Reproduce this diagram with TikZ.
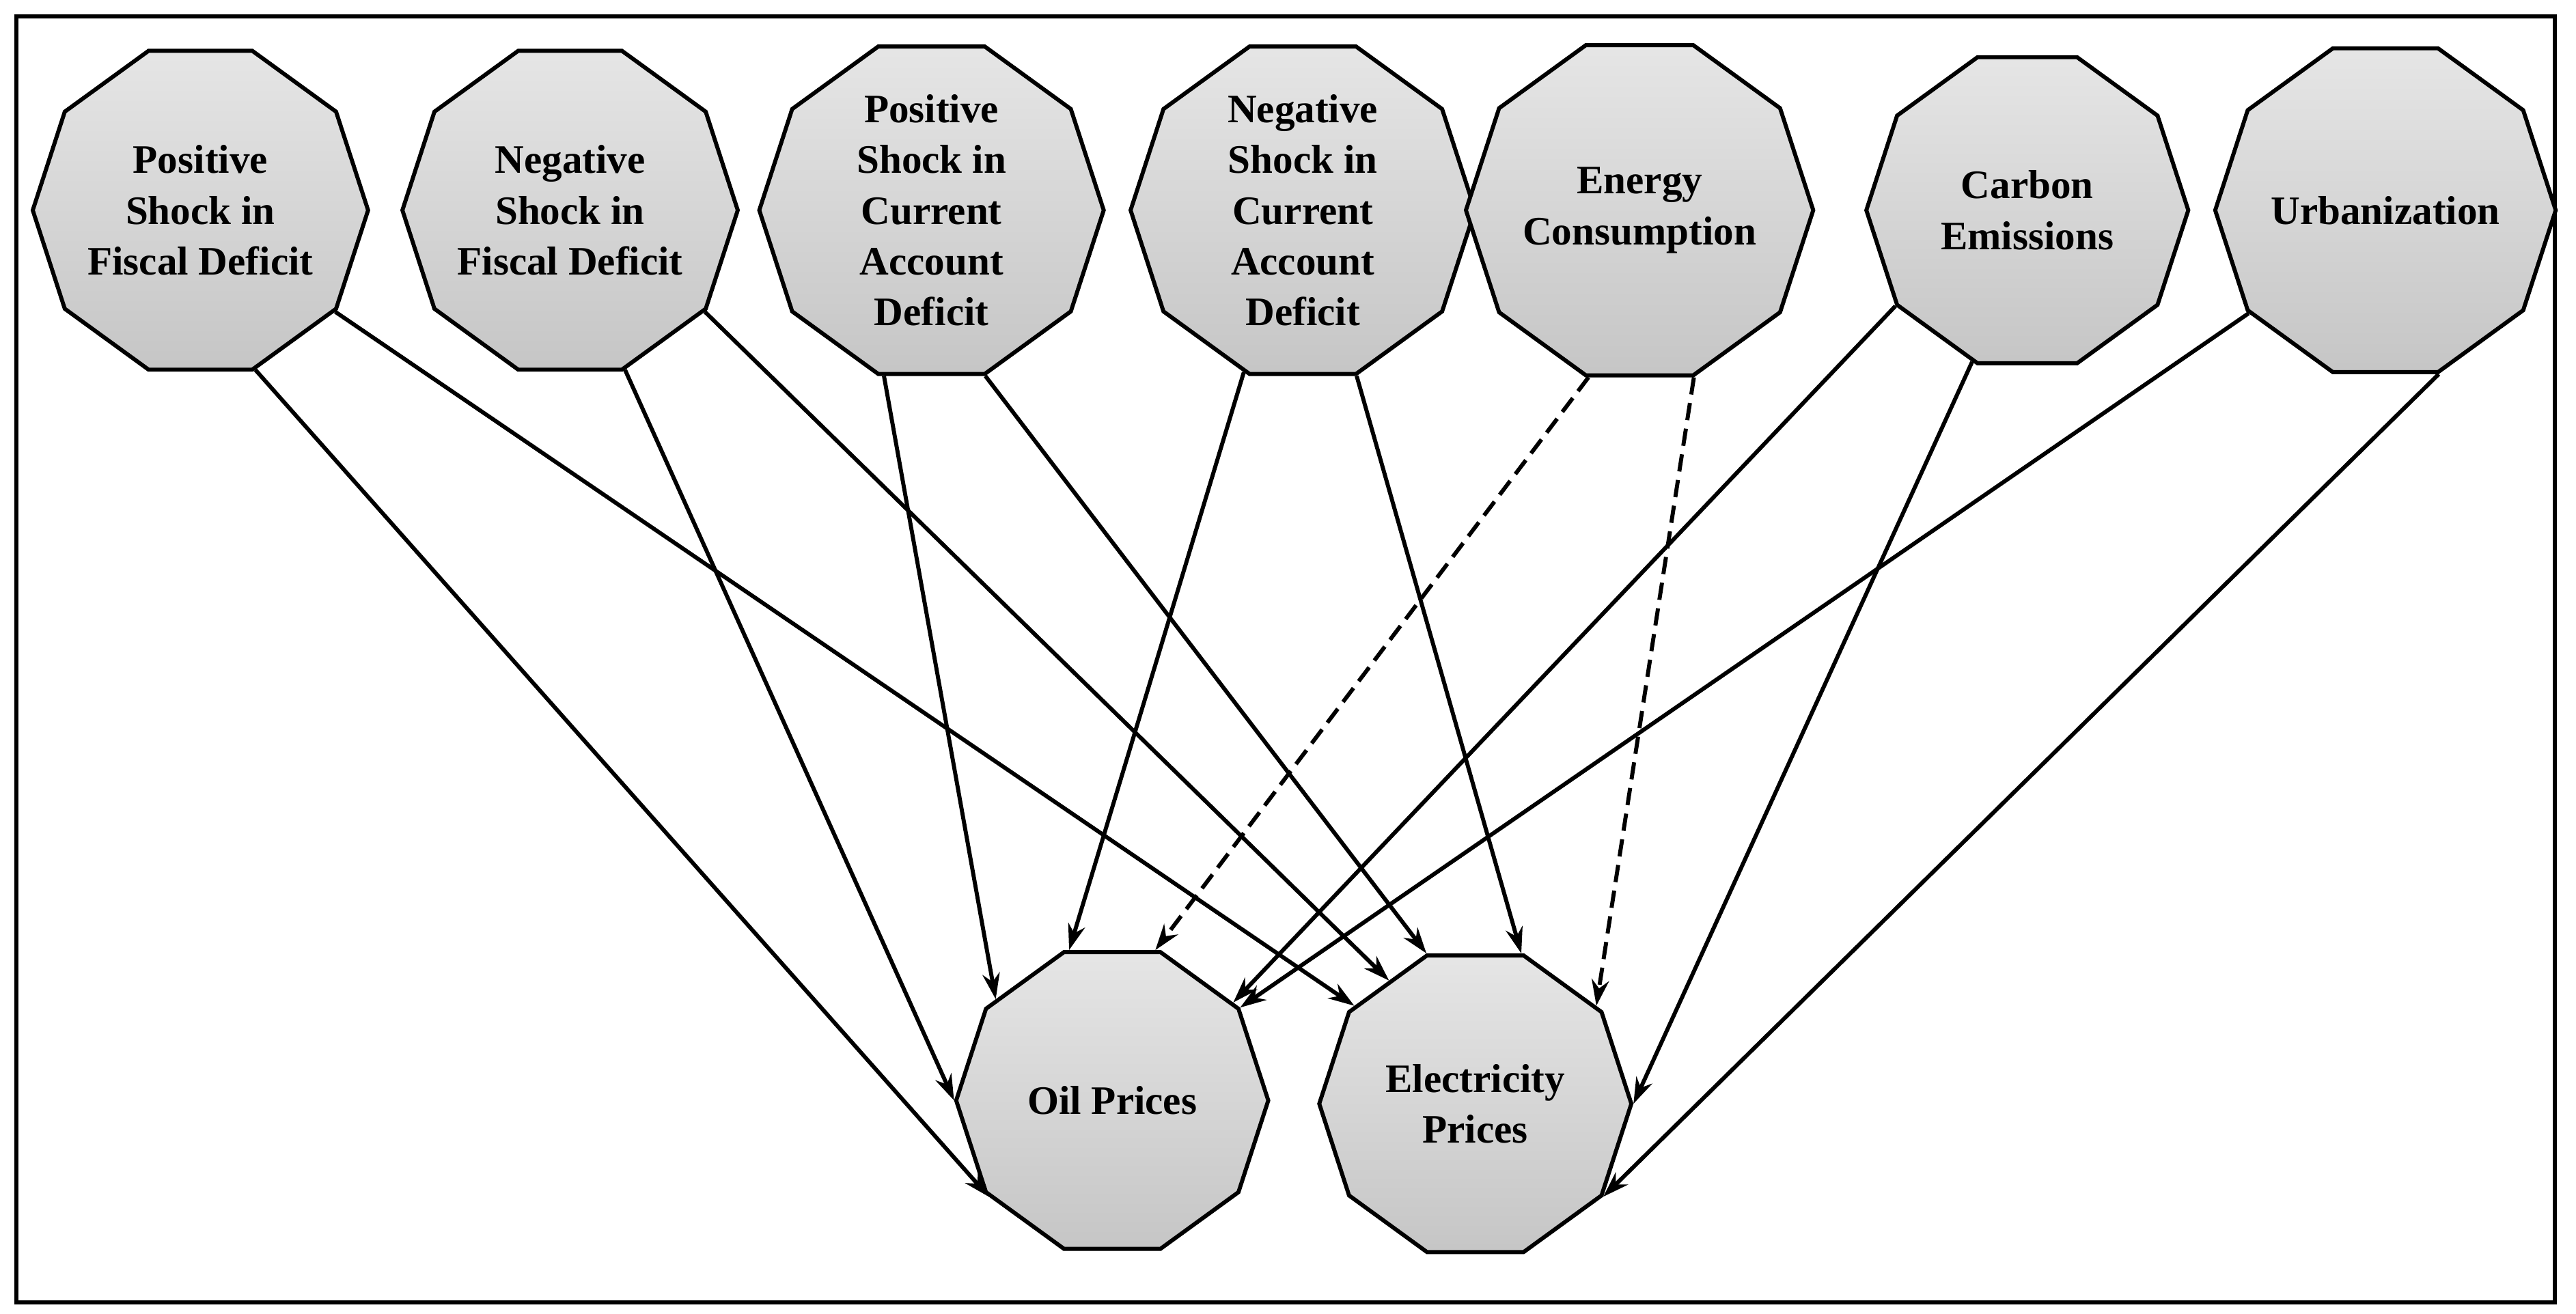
\documentclass[tikz,border=0pt]{standalone}
\usepackage{fontspec}
\setmainfont{Liberation Serif}
\usetikzlibrary{shapes.geometric,arrows.meta}
\begin{document}
\begin{tikzpicture}[x=0.02cm,y=-0.02cm,
 dec/.style={regular polygon,regular polygon sides=10,minimum size=3.92cm,inner sep=0pt,
   draw=black,line width=1.4pt,top color=gray!20,bottom color=gray!45,
   font=\bfseries\fontsize{14}{17.6}\selectfont,align=center},
 ar/.style={line width=1.4pt,-{Stealth[length=9pt,width=6pt]}},
 da/.style={ar,dash pattern=on 6pt off 3pt}]
\useasboundingbox (0,0) rectangle (1568,800);
\draw[line width=1.4pt] (10,10) rectangle (1555,793);
\node[dec] (p1) at (122,128) {Positive\\Shock in\\Fiscal Deficit};
\node[dec] (p2) at (347,128) {Negative\\Shock in\\Fiscal Deficit};
\node[dec] (p3) at (567,128) {Positive\\Shock in\\Current\\Account\\Deficit};
\node[dec] (p4) at (793,128) {Negative\\Shock in\\Current\\Account\\Deficit};
\node[dec] (p5) at (998,128) {Energy\\Consumption};
\node[dec] (p6) at (1234,128) {Carbon\\Emissions};
\node[dec] (p7) at (1452,128) {Urbanization};
\node[dec,minimum size=3.8cm] (oil) at (677,670) {Oil Prices};
\node[dec,minimum size=3.8cm] (el) at (898,672) {Electricity\\Prices};
\draw[ar] (p1.-71) -- (oil.218);
\draw[ar] (p1.-37) -- (el.141);
\draw[ar] (p2.-71) -- (oil.180);
\draw[ar] (p2.-37) -- (el.125);
\draw[ar] (p3.-106) -- (oil.139);
\draw[ar] (p3.-72) -- (el.108);
\draw[ar] (p4.-110) -- (oil.106);
\draw[ar] (p4.-72) -- (el.73);
\draw[da] (p5.-107) -- (oil.74);
\draw[da] (p5.-72) -- (el.39);
\draw[ar] (p6.216) -- (oil.39);
\draw[ar] (p6.-110) -- (el.0);
\draw[ar] (p7.217) -- (oil.36);
\draw[ar] (p7.-72) -- (el.-36);
\end{tikzpicture}
\end{document}
